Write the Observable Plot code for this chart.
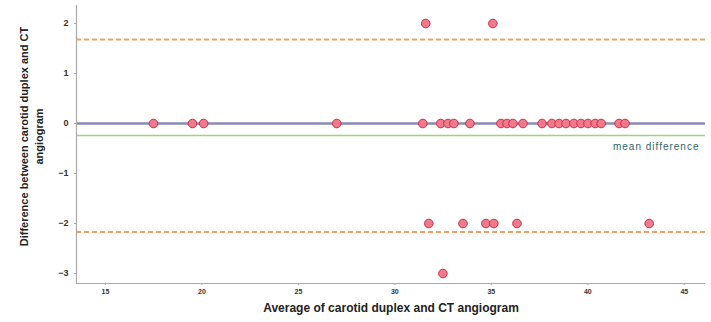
<!DOCTYPE html>
<html><head><meta charset="utf-8">
<script src="https://cdn.jsdelivr.net/npm/d3@7"></script>
<script src="https://cdn.jsdelivr.net/npm/@observablehq/plot@0.6"></script>
<style>body{margin:0;background:#fff;font-family:"Liberation Sans",Arial,sans-serif}</style>
</head><body><div id="chart"></div>
<script>
const avg = [31.6, 35.08,
  17.49, 19.51, 20.09, 26.99, 31.45, 32.38, 32.75, 33.06, 33.89, 35.5, 35.81, 36.12, 36.64, 37.63, 38.14, 38.51, 38.87, 39.28, 39.65, 40.01, 40.38, 40.69, 41.62, 41.93,
  31.76, 33.53, 34.72, 35.13, 36.33, 43.18,
  32.49];
const diff = [2, 2,
  0, 0, 0, 0, 0, 0, 0, 0, 0, 0, 0, 0, 0, 0, 0, 0, 0, 0, 0, 0, 0, 0, 0, 0,
  -2, -2, -2, -2, -2, -2,
  -3];
const meanDiff = -0.24;
const upperLoA = 1.68;
const lowerLoA = -2.17;
const xTicks = [15, 20, 25, 30, 35, 40, 45];
const yTicks = [-3, -2, -1, 0, 1, 2];
const xDomain = [13.5, 46.1];
const yDomain = [-3.2, 2.36];

const pts = avg.map((a, i) => ({a, d: diff[i]}));

const chart = Plot.plot({
  width: 711, height: 322,
  marginLeft: 76, marginBottom: 39, marginTop: 5, marginRight: 6,
  style: {fontFamily: "Liberation Sans, Arial, sans-serif", background: "#fff"},
  x: {domain: xDomain},
  y: {domain: yDomain},
  marks: [
    Plot.ruleY([upperLoA, lowerLoA], {stroke: "#f4a060", strokeWidth: 2, strokeDasharray: "5,3"}),
    Plot.ruleY([0], {stroke: "#8a8ab8", strokeWidth: 2.5}),
    Plot.ruleY([meanDiff], {stroke: "#9ad67c", strokeWidth: 1.5}),
    Plot.ruleX([xDomain[0]], {stroke: "#aaa", strokeWidth: 1.2}),
    Plot.ruleY([yDomain[0]], {stroke: "#aaa", strokeWidth: 1.2}),
    Plot.axisX({ticks: xTicks, tickFormat: d3.format("d"), tickSize: 2, fontSize: 7, fontWeight: "bold", fill: "#333", stroke: "#aaa", label: null, tickPadding: 4}),
    Plot.axisY({ticks: yTicks, tickFormat: d3.format("d"), tickSize: 2, fontSize: 9, fontWeight: "bold", fill: "#333", stroke: "#aaa", label: null, tickPadding: 6}),
    Plot.dot(pts, {x: "a", y: "d", r: 4.3, fill: "#f07a8c", stroke: "#cc2a44", strokeWidth: 1}),
    Plot.text([meanDiff], {y: d => d, frameAnchor: "right", textAnchor: "end", dx: -6, dy: 11, text: () => "mean difference", fontSize: 10, fill: "#2f6464", style: {letterSpacing: "1px"}}),
    Plot.text(["Average of carotid duplex and CT angiogram"], {frameAnchor: "bottom", dy: 28, fontSize: 12, fontWeight: "bold", fill: "#222"}),
    Plot.text(["Difference between carotid duplex and CT\nangiogram"], {frameAnchor: "left", textAnchor: "middle", lineAnchor: "middle", rotate: -90, dx: -46, dy: -8, fontSize: 11, fontWeight: "bold", fill: "#222", lineHeight: 1.35})
  ]
});
chart.querySelectorAll("text").forEach(t => { if (t.textContent === "mean difference") t.setAttribute("letter-spacing", "1"); });
document.getElementById("chart").appendChild(chart);
</script></body></html>
